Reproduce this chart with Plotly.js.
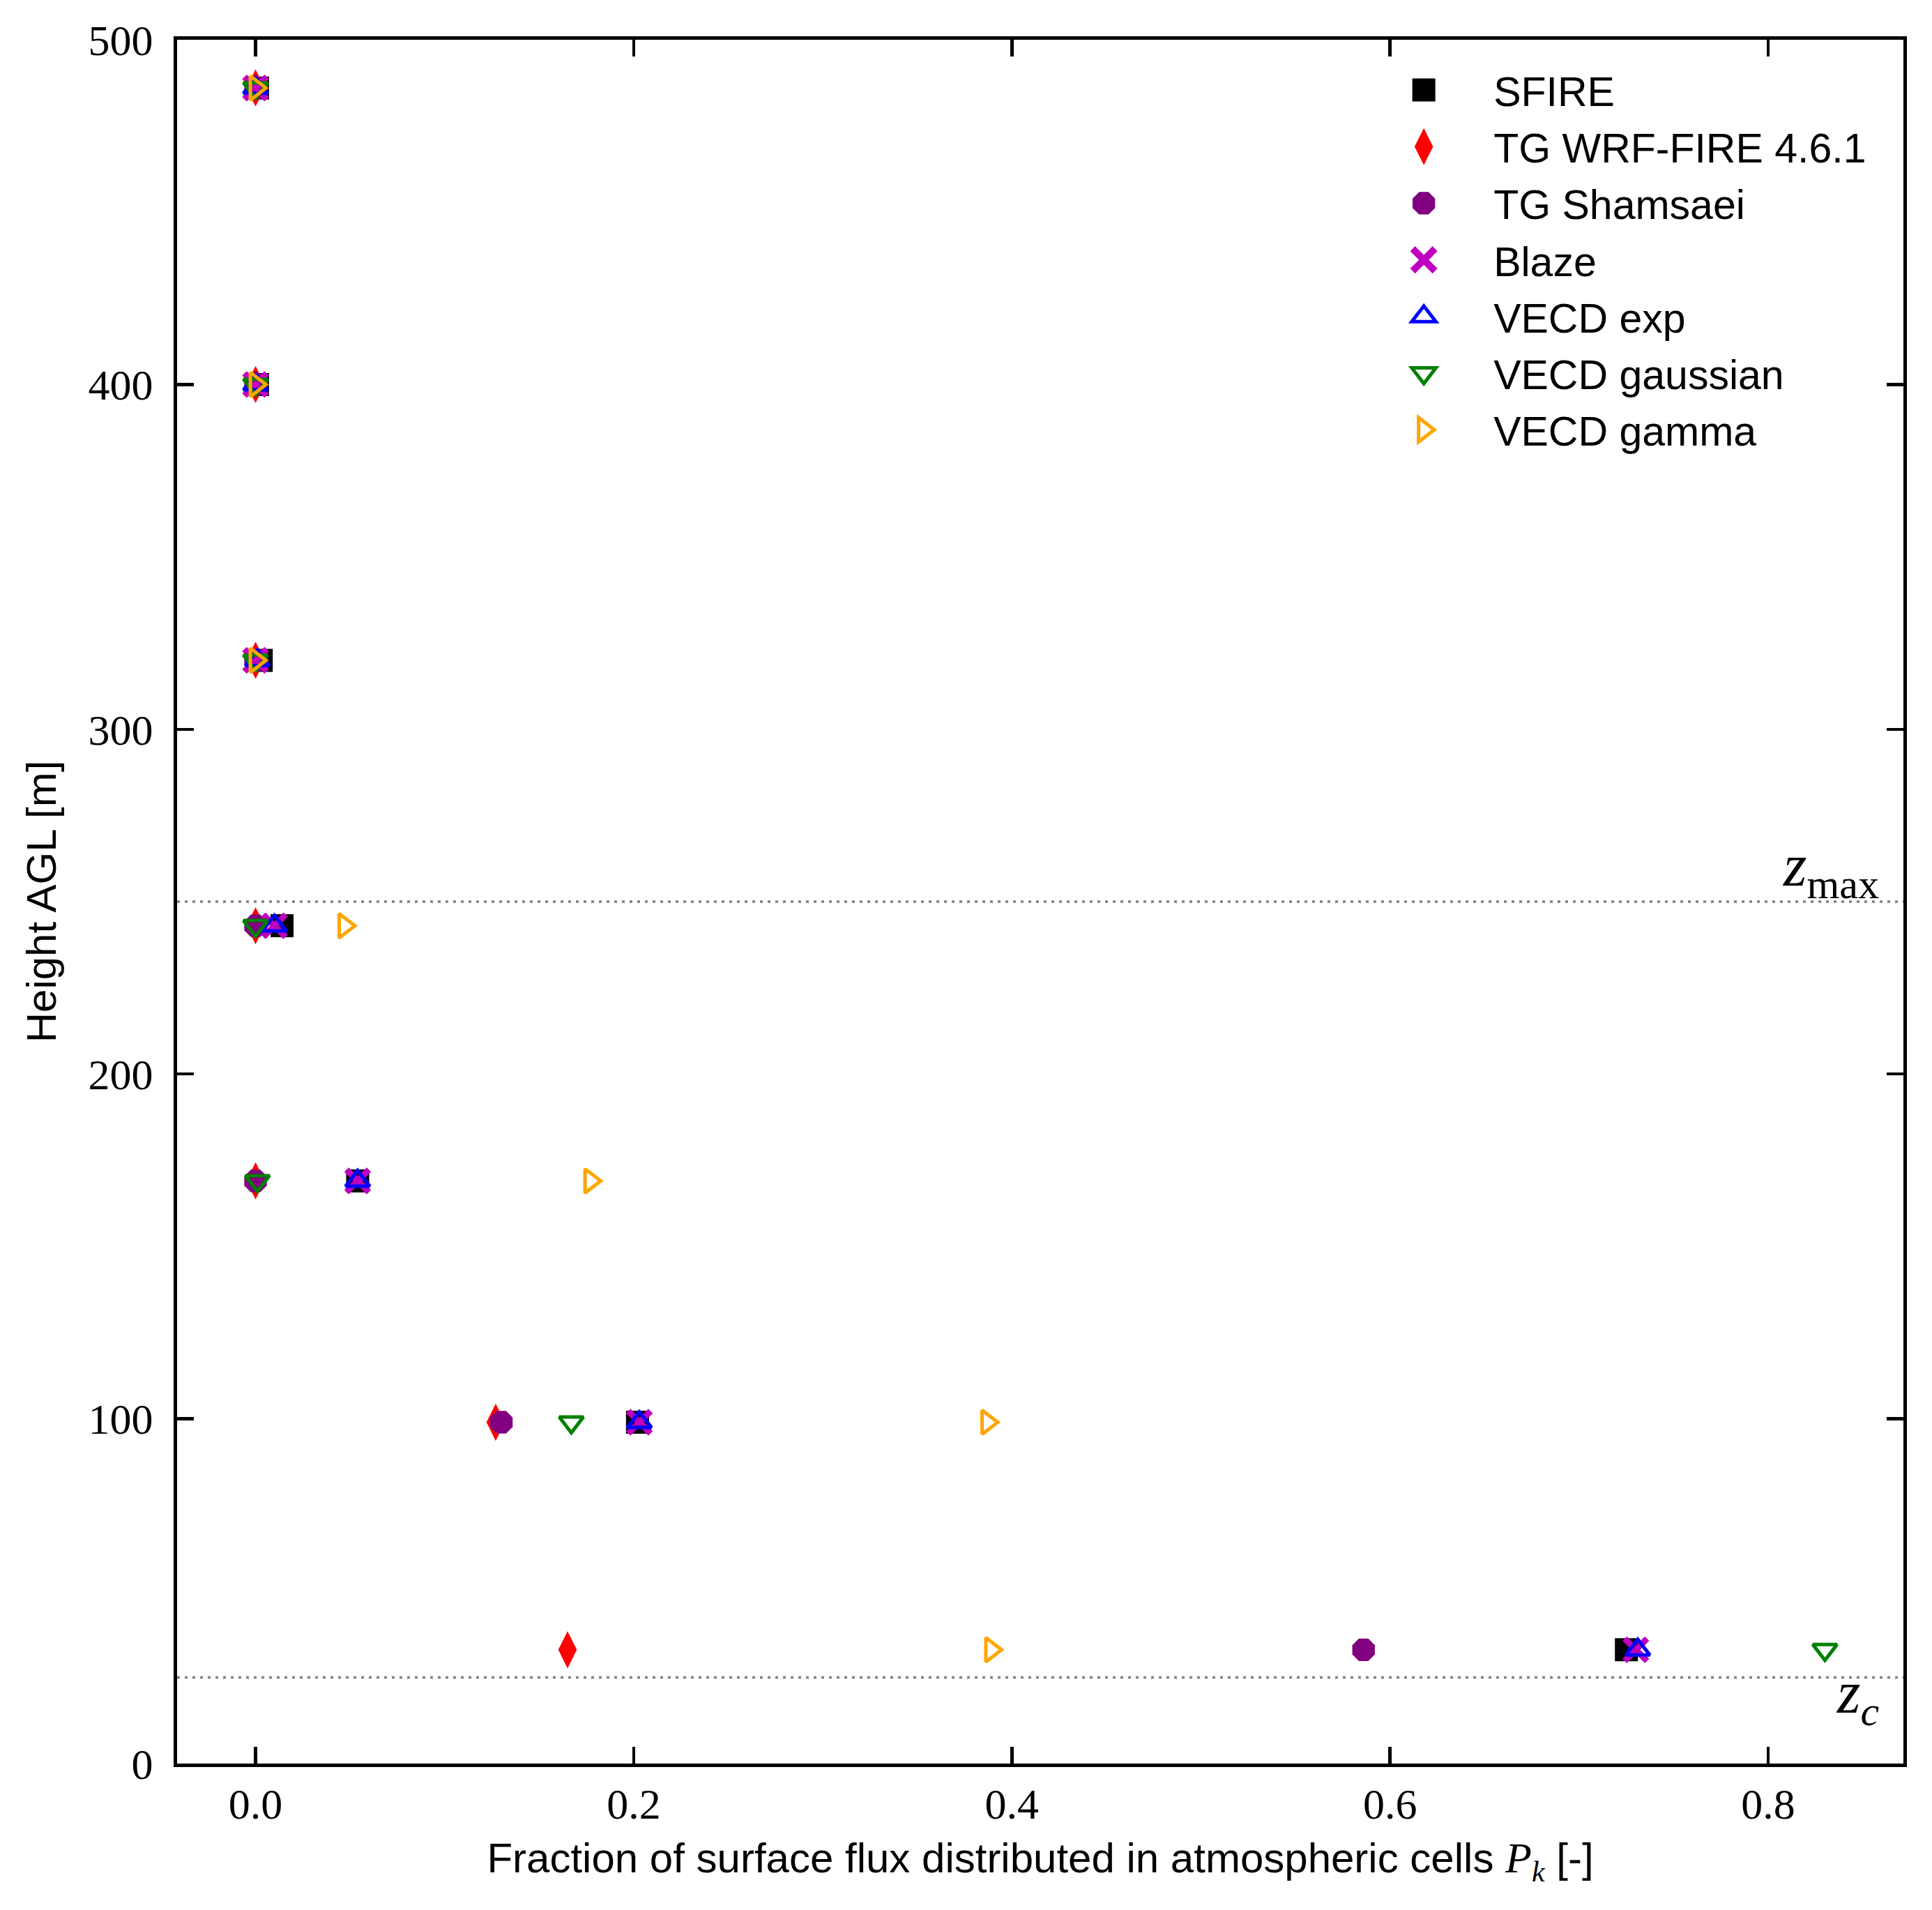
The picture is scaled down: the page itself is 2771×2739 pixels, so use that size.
<!DOCTYPE html>
<html>
<head>
<meta charset="utf-8">
<script src="https://cdn.plot.ly/plotly-3.0.1.min.js"></script>
<style>
  html, body { margin: 0; padding: 0; background: #fff; }
  #chart { width: 2771px; height: 2739px; }
</style>
</head>
<body>
<div id="chart"></div>
<script>
// heights of the atmospheric cell centres [m AGL]
const heights = [486, 400, 320, 243, 169, 99, 33];

// fraction of surface flux per cell, top cell first
const sfire      = [0.001, 0.001, 0.003, 0.014, 0.054, 0.202, 0.725];
const tgWrfFire  = [0.000, 0.000, 0.000, 0.000, 0.000, 0.127, 0.165];
const tgShamsaei = [0.000, 0.000, 0.000, 0.000, 0.000, 0.130, 0.586];
const blaze      = [0.000, 0.000, 0.000, 0.010, 0.054, 0.203, 0.730];
const vecdExp    = [0.000, 0.000, 0.001, 0.010, 0.054, 0.203, 0.731];
const vecdGauss  = [0.000, 0.000, 0.000, 0.000, 0.001, 0.167, 0.830];
const vecdGamma  = [0.000, 0.000, 0.000, 0.047, 0.177, 0.387, 0.389];

const seriesNames = ['SFIRE', 'TG WRF-FIRE 4.6.1', 'TG Shamsaei', 'Blaze',
                     'VECD exp', 'VECD gaussian', 'VECD gamma'];
const seriesValues = [sfire, tgWrfFire, tgShamsaei, blaze, vecdExp, vecdGauss, vecdGamma];

// reference levels
const zMax = 250;
const zC = 25;

const xTicks = [0, 0.2, 0.4, 0.6, 0.8];
const yTicks = [0, 100, 200, 300, 400, 500];

// marker styles, matplotlib-like
const styles = [
  { symbol: 'square',              size: 33, color: '#000000', lineColor: '#000000', lineWidth: 0 },
  { symbol: 'diamond-tall',        size: 38, color: '#ff0000', lineColor: '#ff0000', lineWidth: 0 },
  { symbol: 'octagon',             size: 35, color: '#800080', lineColor: '#800080', lineWidth: 0 },
  { symbol: 'x-thin-open',         size: 32, color: '#bf00bf', lineColor: '#bf00bf', lineWidth: 9 },
  { symbol: 'triangle-up-open',    size: 30, color: '#0000ff', lineColor: '#0000ff', lineWidth: 5 },
  { symbol: 'triangle-down-open',  size: 30, color: '#008000', lineColor: '#008000', lineWidth: 5 },
  { symbol: 'triangle-right-open', size: 30, color: '#ffa500', lineColor: '#ffa500', lineWidth: 5 }
];

const SANS = '"Liberation Sans", Arial, sans-serif';
const SERIF = '"Liberation Serif", "Times New Roman", serif';

const traces = seriesNames.map((name, i) => ({
  type: 'scatter', mode: 'markers',
  name: name,
  x: seriesValues[i], y: heights,
  legendgroup: 'g' + i,
  marker: {
    symbol: styles[i].symbol, size: styles[i].size, color: styles[i].color,
    line: { color: styles[i].lineColor, width: styles[i].lineWidth }
  },
  cliponaxis: false
}));

const refLine = yv => ({
  type: 'line', xref: 'paper', x0: 0, x1: 1, yref: 'y', y0: yv, y1: yv,
  line: { color: '#808080', width: 3.5, dash: '4px,7px' }, layer: 'below'
});

// math-ish labels, every piece with an explicit size
const zLabel = sub =>
  '<i style="font-size:86px">z</i>' + '<sub style="font-size:60px">' + sub + '</sub>';

const axisCommon = {
  showline: true, linecolor: '#000', linewidth: 5, mirror: 'ticks',
  ticks: 'inside', ticklen: 24, tickwidth: 4.5, tickcolor: '#000',
  showgrid: false, zeroline: false,
  tickfont: { family: SERIF, size: 62, color: '#000' }
};

const layout = {
  width: 2771, height: 2739,
  paper_bgcolor: '#fff', plot_bgcolor: '#fff',
  margin: { l: 254, r: 41, t: 57, b: 210 },
  font: { family: SANS, size: 60, color: '#000' },
  xaxis: Object.assign({}, axisCommon, {
    range: [-0.0415, 0.8715], tickvals: xTicks, tickformat: '.1f',
    ticklabelstandoff: 0,
    title: {
      text: 'Fraction of surface flux distributed in atmospheric cells ' +
            '<i style="font-family:Liberation Serif;font-size:62px">P</i>' +
            '<sub style="font-family:Liberation Serif;font-size:44px;font-style:italic">k</sub> [-]',
      font: { family: SANS, size: 60 }, standoff: 24
    }
  }),
  yaxis: Object.assign({}, axisCommon, {
    range: [0, 500], tickvals: yTicks,
    ticklabelstandoff: 17,
    title: { text: 'Height AGL [m]', font: { family: SANS, size: 60 }, standoff: 28 }
  }),
  shapes: [refLine(zMax), refLine(zC)],
  annotations: [
    { xref: 'paper', x: 0.9867, yref: 'y', y: zMax, xanchor: 'right', yanchor: 'bottom',
      text: zLabel('max'), showarrow: false, yshift: -10,
      font: { family: SERIF, size: 86, color: '#000' } },
    { xref: 'paper', x: 0.9867, yref: 'y', y: zC, xanchor: 'right', yanchor: 'top',
      text: zLabel('<i style="font-size:60px">c</i>'), showarrow: false, yshift: 28,
      font: { family: SERIF, size: 86, color: '#000' } }
  ],
  legend: {
    x: 0.6818, y: 0.989, xanchor: 'left', yanchor: 'top',
    bgcolor: 'rgba(0,0,0,0)', borderwidth: 0,
    font: { family: SANS, size: 59, color: '#000' },
    itemwidth: 190, traceorder: 'grouped', tracegroupgap: 1.5
  },
  showlegend: true
};

Plotly.newPlot('chart', traces, layout, { displayModeBar: false, staticPlot: true }).then(gd => {
  // plotly caps legend symbols at 16px; scale them back up to the data marker size
  const groups = gd.querySelectorAll('.legend .traces');
  groups.forEach((g, i) => {
    const k = styles[i].size / 16;
    g.querySelectorAll('.legendpoints path').forEach(p => {
      const t = p.getAttribute('transform') || '';
      p.setAttribute('transform', t + ' scale(' + k + ')');
      // outlines keep their width, the cross may grow with its arms
      if (styles[i].symbol.indexOf('triangle') === 0) p.style.vectorEffect = 'non-scaling-stroke';
    });
  });
  // drop the empty placeholder texts plotly leaves behind (chart title etc.)
  gd.querySelectorAll('text').forEach(t => {
    if (!t.textContent.trim()) t.remove();
  });
});
</script>
</body>
</html>
